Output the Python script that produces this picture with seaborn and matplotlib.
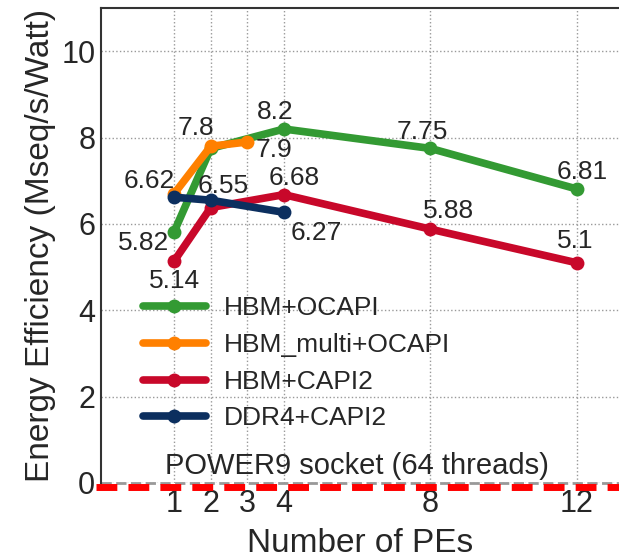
import matplotlib
matplotlib.use("Agg")
import matplotlib.pyplot as plt
import seaborn as sns
import pandas as pd

# values
series_names = ["HBM+OCAPI", "HBM_multi+OCAPI", "HBM+CAPI2", "DDR4+CAPI2"]
pes_ocapi = [1, 2, 4, 8, 12]
eff_ocapi = [5.82, 7.75, 8.2, 7.75, 6.81]
pes_multi = [1, 2, 3]
eff_multi = [6.7, 7.8, 7.9]
pes_capi = [1, 2, 4, 8, 12]
eff_capi = [5.14, 6.38, 6.68, 5.88, 5.1]
pes_ddr = [1, 2, 4]
eff_ddr = [6.62, 6.55, 6.27]
colors = ["#339a33", "#ff8000", "#c8082a", "#0c2f5f"]
xticks = [1, 2, 3, 4, 8, 12]
yticks = [0, 2, 4, 6, 8, 10]

# (series, x, label text, offset in points)
labels = [
    (0, 1, "5.82", (-22, -8)), (0, 4, "8.2", (-6, 12)), (0, 8, "7.75", (-6, 12)),
    (0, 12, "6.81", (4, 12)),
    (1, 2, "7.8", (-11, 13)), (1, 3, "7.9", (19, -6)),
    (2, 1, "5.14", (0, -14)), (2, 4, "6.68", (7, 12)), (2, 8, "5.88", (13, 13)),
    (2, 12, "5.1", (-1, 16)),
    (3, 1, "6.62", (-18, 12)), (3, 2, "6.55", (9, 10)), (3, 4, "6.27", (23, -15)),
]

sns.set_theme(style="whitegrid")
plt.rcParams["font.family"] = ["Liberation Sans", "DejaVu Sans"]
plt.rcParams["text.color"] = "#262626"

fig = plt.figure(figsize=(6.19, 5.60), dpi=100)
ax = fig.add_axes([0.163, 0.1375, 0.837, 0.848])

data = [(pes_ocapi, eff_ocapi), (pes_multi, eff_multi), (pes_capi, eff_capi), (pes_ddr, eff_ddr)]
for (xs, ys), name, c in zip(data, series_names, colors):
    df = pd.DataFrame({"pes": xs, "eff": ys})
    sns.lineplot(data=df, x="pes", y="eff", color=c, marker="o", markersize=10,
                 markeredgewidth=0, linewidth=5.5, label=name, ax=ax)

for si, xv, txt, off in labels:
    xs, ys = data[si]
    yv = ys[xs.index(xv)]
    ax.annotate(txt, (xv, yv), xytext=off, textcoords="offset points",
                ha="center", va="center", fontsize=19, color="#262626")

ax.set_xlim(-1, 13.15)
ax.set_ylim(0, 11)
ax.set_xticks(xticks)
ax.set_yticks(yticks)
ax.tick_params(axis="both", labelsize=22, length=0, colors="#262626")
ax.tick_params(axis="x", pad=4)
ax.tick_params(axis="y", pad=4)
ax.set_xlabel("Number of PEs", fontsize=24, labelpad=7)
ax.set_ylabel("Energy Efficiency (Mseq/s/Watt)", fontsize=24, labelpad=4)
ax.grid(True, linestyle=":", color="#999999", linewidth=1)

for s in ["left", "top"]:
    ax.spines[s].set_color("#333333")
    ax.spines[s].set_linewidth(1.5)
ax.spines["right"].set_visible(False)
ax.spines["bottom"].set_visible(False)

ax.axhline(0, color="#999999", linestyle="--", linewidth=2, clip_on=False)
ax.axhline(-0.1, color="red", linestyle=(0, (3, 1.6)), linewidth=5, clip_on=False,
           xmin=-0.01)
ax.text(6, 0.08, "POWER9 socket (64 threads)", ha="center", va="bottom", fontsize=21)

ax.legend(loc="upper left", bbox_to_anchor=(0.06, 0.415), frameon=False, fontsize=19,
          handlelength=2.4, handletextpad=0.7, labelspacing=0.48, borderaxespad=0)

fig.savefig("out.png", dpi=100)
